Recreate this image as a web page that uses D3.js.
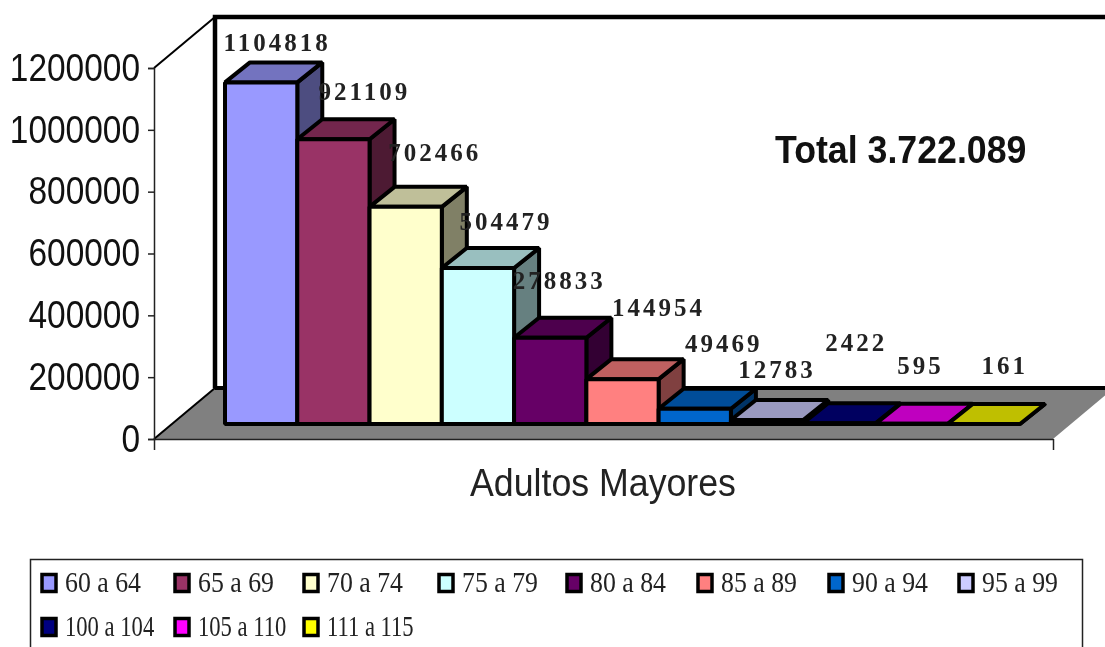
<!DOCTYPE html>
<meta charset="utf-8">
<head>
  <style>
    html, body { margin: 0; background: #fff; }
    svg { display: block; filter: blur(0.6px); }
    .axis text { font-family: "Liberation Sans", sans-serif; font-size: 38px; fill: #111; }
    .axis path, .axis line { stroke: #222; stroke-width: 1.5; fill: none; }
    .value { font-family: "Liberation Serif", serif; font-weight: bold; font-size: 25px; letter-spacing: 3px; fill: #222; text-anchor: middle; }
    .legend-label { font-family: "Liberation Serif", serif; font-size: 29px; fill: #222; }
  </style>
</head>
<body>
  <script src="https://d3js.org/d3.v7.min.js"></script>
  <script>
    var categories = ["60 a 64", "65 a 69", "70 a 74", "75 a 79", "80 a 84", "85 a 89",
      "90 a 94", "95 a 99", "100 a 104", "105 a 110", "111 a 115"];
    var values = [1104818, 921109, 702466, 504479, 278833, 144954, 49469, 12783, 2422, 595, 161];
    var colors = ["#9999ff", "#993366", "#ffffcc", "#ccffff", "#660066", "#ff8080",
      "#0066cc", "#ccccff", "#000080", "#ff00ff", "#ffff00"];
    var yTicks = [0, 200000, 400000, 600000, 800000, 1000000, 1200000];
    var xTitle = "Adultos Mayores";
    var totalLabel = "Total 3.722.089";

    var width = 1105, height = 647;

    var svg = d3.select("body").append("svg")
      .attr("width", width)
      .attr("height", height);

    // axis scale sits on the front edge, bars sit a bit further back
    var y = d3.scaleLinear().domain([0, 1200000]).range([439, 68]);
    var barBase = 424;
    var x = d3.scaleBand().domain(categories).range([225, 1020]);
    var depth = { x: 25, y: -20 };        // bar depth
    var wall = { x: 61, y: -51 };         // chart depth
    var axisLeft = 154, axisRight = 1053;

    function barHeight(v) { return y(0) - y(v); }
    function shade(c, k) {
      var r = d3.rgb(c);
      return d3.rgb(r.r * k, r.g * k, r.b * k).formatHex();
    }
    function pts(a) { return a.map(function (p) { return p.join(","); }).join(" "); }

    // the source picture is stretched vertically, so text is drawn tall and squeezed
    function squeezed(x0, y0, k) {
      return "translate(" + x0 + "," + y0 + ") scale(" + k + ",1)";
    }

    // floor
    svg.append("polygon")
      .attr("points", pts([
        [axisLeft, y(0)],
        [axisLeft + wall.x, y(0) + wall.y],
        [axisRight + wall.x, y(0) + wall.y],
        [axisRight, y(0)]
      ]))
      .attr("fill", "#808080");

    // back wall
    svg.append("path")
      .attr("d", d3.line()([
        [axisLeft + wall.x, y(0) + wall.y],
        [axisLeft + wall.x, y(1200000) + wall.y],
        [width + 5, y(1200000) + wall.y]
      ]))
      .attr("fill", "none")
      .attr("stroke", "#000")
      .attr("stroke-width", 4.5);

    svg.append("line")
      .attr("x1", axisLeft + wall.x).attr("x2", width + 5)
      .attr("y1", y(0) + wall.y).attr("y2", y(0) + wall.y)
      .attr("stroke", "#000")
      .attr("stroke-width", 4);

    // side wall edges
    svg.append("line")
      .attr("x1", axisLeft).attr("y1", y(1200000))
      .attr("x2", axisLeft + wall.x).attr("y2", y(1200000) + wall.y)
      .attr("stroke", "#000").attr("stroke-width", 2);
    svg.append("line")
      .attr("x1", axisLeft).attr("y1", y(0))
      .attr("x2", axisLeft + wall.x).attr("y2", y(0) + wall.y)
      .attr("stroke", "#000").attr("stroke-width", 2);

    // axes
    var yAxis = svg.append("g")
      .attr("class", "y axis")
      .attr("transform", "translate(" + axisLeft + ",0)")
      .call(d3.axisLeft(y).tickValues(yTicks).tickFormat(d3.format("d")).tickSize(6).tickPadding(8));

    yAxis.selectAll("text")
      .attr("x", -14 / 0.88)
      .attr("transform", "scale(0.88,1)");

    var xEdge = d3.scaleLinear().domain([0, 1]).range([axisLeft, axisRight]);
    svg.append("g")
      .attr("class", "x axis")
      .attr("transform", "translate(0," + y(0) + ")")
      .call(d3.axisBottom(xEdge).tickValues([0, 1]).tickFormat("").tickSize(11).tickSizeOuter(0));

    svg.append("text")
      .attr("transform", squeezed(603, 496, 0.94))
      .attr("text-anchor", "middle")
      .style("font-family", "Liberation Sans, sans-serif")
      .style("font-size", "38px")
      .style("fill", "#222")
      .text(xTitle);

    // bars, left to right so the next front covers the side before it
    var bars = svg.selectAll("g.bar")
      .data(values)
      .enter().append("g")
      .attr("class", "bar");

    var barStyle = function (sel) {
      sel.attr("stroke", "#000").attr("stroke-width", 4).attr("stroke-linejoin", "bevel");
    };

    bars.append("polygon")
      .attr("points", function (d, i) {
        var x1 = x(categories[i]) + x.bandwidth(), top = barBase - barHeight(d);
        return pts([[x1, top], [x1 + depth.x, top + depth.y], [x1 + depth.x, barBase + depth.y], [x1, barBase]]);
      })
      .attr("fill", function (d, i) { return shade(colors[i], 0.5); })
      .call(barStyle);

    bars.append("polygon")
      .attr("points", function (d, i) {
        var x0 = x(categories[i]), x1 = x0 + x.bandwidth(), top = barBase - barHeight(d);
        return pts([[x0, top], [x0 + depth.x, top + depth.y], [x1 + depth.x, top + depth.y], [x1, top]]);
      })
      .attr("fill", function (d, i) { return shade(colors[i], 0.75); })
      .call(barStyle);

    bars.append("rect")
      .attr("x", function (d, i) { return x(categories[i]); })
      .attr("y", function (d) { return barBase - barHeight(d); })
      .attr("width", x.bandwidth())
      .attr("height", function (d) { return barHeight(d); })
      .attr("fill", function (d, i) { return colors[i]; })
      .call(barStyle);

    // value labels were nudged by hand in the original, so same here
    var labelDx = [16, 31, 29, 28, 9, 36, 29, 10, 17, 9, 21];
    var labelDy = [-31, -39, -46, -38, -49, -63, -57, -42, -72, -50, -50];

    svg.selectAll("text.value")
      .data(values)
      .enter().append("text")
      .attr("class", "value")
      .attr("x", function (d, i) { return x(categories[i]) + x.bandwidth() / 2 + labelDx[i]; })
      .attr("y", function (d, i) { return barBase - barHeight(d) + labelDy[i]; })
      .text(function (d) { return d; });

    svg.append("text")
      .attr("transform", squeezed(775, 163, 0.94))
      .style("font-family", "Liberation Sans, sans-serif")
      .style("font-weight", "bold")
      .style("font-size", "38px")
      .style("fill", "#111")
      .text(totalLabel);

    // legend, bottom edge is cut off by the page
    svg.append("rect")
      .attr("x", 30.5).attr("y", 559.5)
      .attr("width", 1052).attr("height", 120)
      .attr("fill", "#fff")
      .attr("stroke", "#222")
      .attr("stroke-width", 1.5);

    var legendCols = [40, 173, 302, 437, 565, 696, 827, 957];
    var legendRows = [583, 627];

    var legend = svg.selectAll("g.legend")
      .data(categories)
      .enter().append("g")
      .attr("class", "legend")
      .attr("transform", function (d, i) {
        return "translate(" + legendCols[i % 8] + "," + legendRows[Math.floor(i / 8)] + ")";
      });

    legend.append("rect")
      .attr("x", 2).attr("y", -8.5)
      .attr("width", 14).attr("height", 17)
      .attr("fill", function (d, i) { return colors[i]; })
      .attr("stroke", "#000")
      .attr("stroke-width", 3.5);

    // second row has the narrow 1s of the original, so it gets squeezed more
    legend.append("text")
      .attr("class", "legend-label")
      .attr("transform", function (d, i) { return squeezed(25, 9, i < 8 ? 0.89 : 0.78); })
      .text(function (d) { return d; });
  </script>
</body>
